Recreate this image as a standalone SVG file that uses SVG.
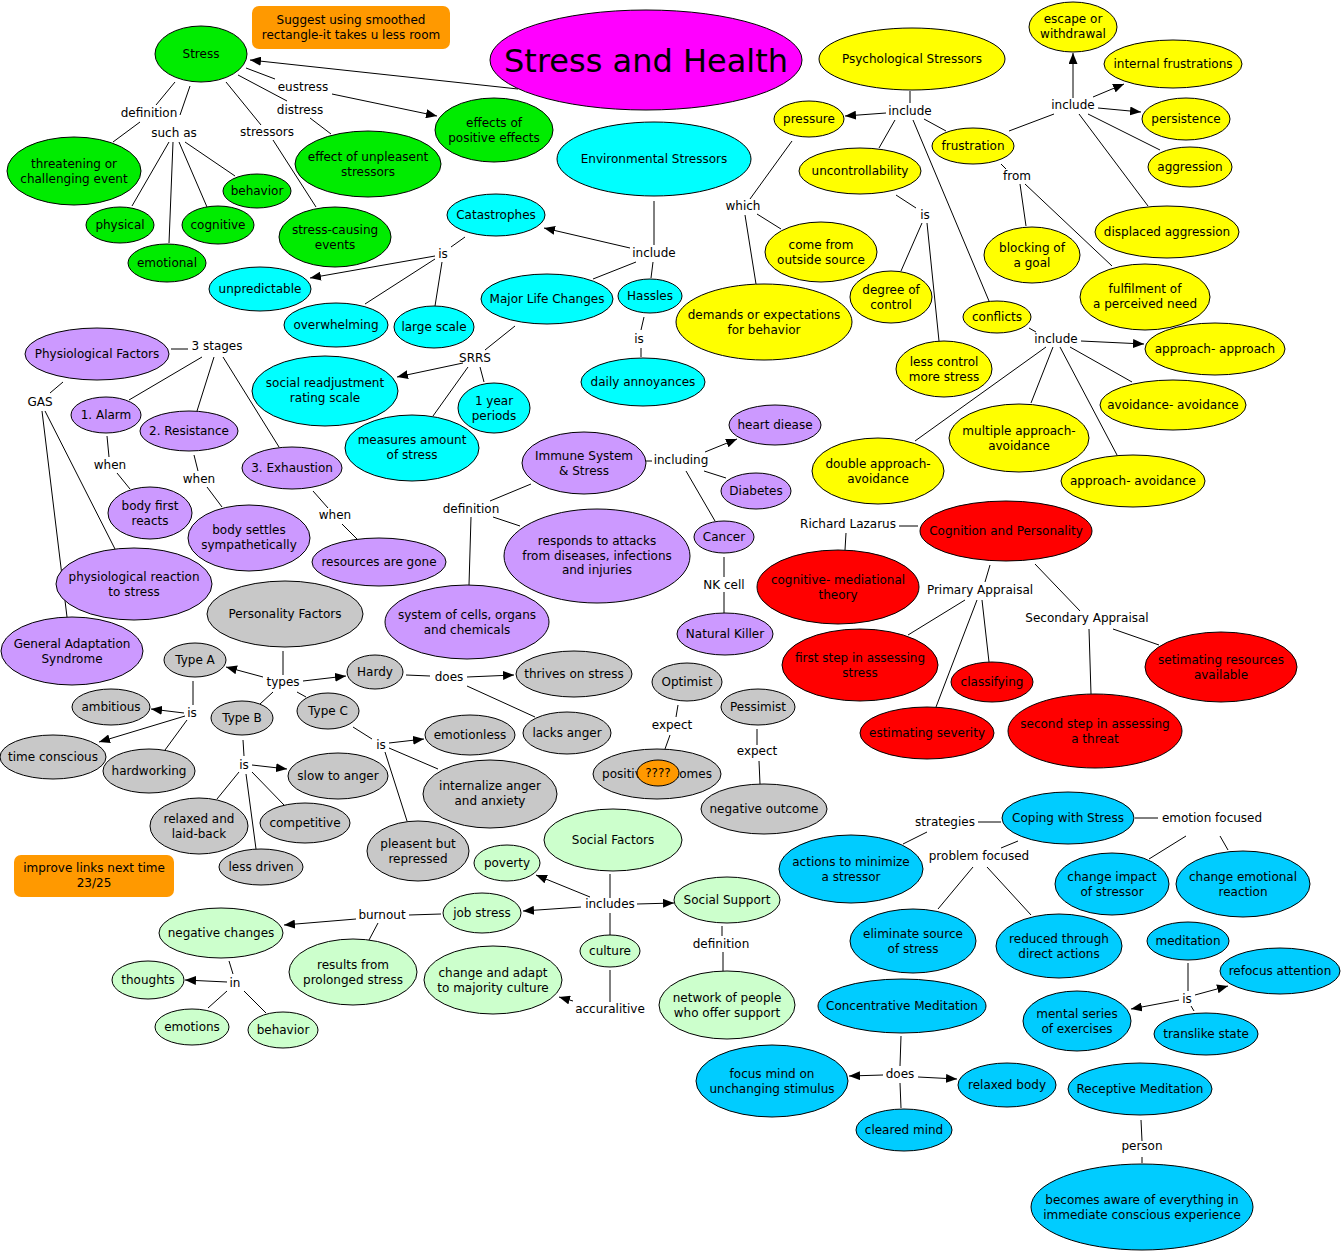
<svg xmlns="http://www.w3.org/2000/svg" width="1343" height="1252" viewBox="0 0 1343 1252">
<defs>
<marker id="arr" viewBox="0 0 11 9" refX="11" refY="4.5" markerWidth="11" markerHeight="9" markerUnits="userSpaceOnUse" orient="auto"><path d="M0,0L11,4.5L0,9z" fill="#000"/></marker>
<style>
text{font-family:"DejaVu Sans",Verdana,sans-serif;font-size:12px;fill:#000;text-anchor:middle}
ellipse{stroke:#000;stroke-width:1}
.g ellipse{fill:#00ec00}
.c ellipse{fill:#00ffff}
.y ellipse{fill:#ffff00}
.p ellipse{fill:#cc99ff}
.r ellipse{fill:#ff0000}
.s ellipse{fill:#c8c8c8}
.lg ellipse{fill:#ccffcc}
.b ellipse{fill:#00ccff}
.note rect{fill:#ff9900}
#links line{stroke:#000;stroke-width:1}
#links line.a{marker-end:url(#arr)}
</style>
</defs>
<rect width="1343" height="1252" fill="#fff"/>

<g id="links">
<line x1="518" y1="89" x2="250" y2="60" class="a"/>
<line x1="246" y1="68" x2="275" y2="79"/>
<line x1="332" y1="94" x2="437" y2="116" class="a"/>
<line x1="238" y1="75" x2="287" y2="101"/>
<line x1="310" y1="118" x2="331" y2="134"/>
<line x1="175" y1="82" x2="156" y2="105"/>
<line x1="140" y1="122" x2="113" y2="142"/>
<line x1="190" y1="86" x2="180" y2="115"/>
<line x1="169" y1="142" x2="132" y2="206"/>
<line x1="173" y1="142" x2="169" y2="243"/>
<line x1="179" y1="142" x2="207" y2="207"/>
<line x1="185" y1="142" x2="235" y2="176"/>
<line x1="226" y1="82" x2="261" y2="125"/>
<line x1="273" y1="140" x2="316" y2="207"/>
<line x1="654" y1="201" x2="654" y2="245"/>
<line x1="630" y1="248" x2="544" y2="228" class="a"/>
<line x1="636" y1="262" x2="593" y2="279"/>
<line x1="653" y1="262" x2="651" y2="278"/>
<line x1="465" y1="237" x2="451" y2="247"/>
<line x1="435" y1="256" x2="310" y2="278" class="a"/>
<line x1="435" y1="259" x2="365" y2="304"/>
<line x1="442" y1="262" x2="435" y2="306"/>
<line x1="515" y1="326" x2="485" y2="350"/>
<line x1="463" y1="363" x2="397" y2="377" class="a"/>
<line x1="468" y1="367" x2="433" y2="416"/>
<line x1="480" y1="367" x2="484" y2="382"/>
<line x1="644" y1="317" x2="641" y2="330"/>
<line x1="641" y1="348" x2="641" y2="357"/>
<line x1="910" y1="91" x2="910" y2="103"/>
<line x1="886" y1="113" x2="845" y2="116" class="a"/>
<line x1="895" y1="120" x2="879" y2="148"/>
<line x1="924" y1="119" x2="946" y2="131"/>
<line x1="913" y1="120" x2="989" y2="301"/>
<line x1="792" y1="141" x2="750" y2="199"/>
<line x1="757" y1="214" x2="781" y2="229"/>
<line x1="745" y1="215" x2="756" y2="284"/>
<line x1="896" y1="195" x2="916" y2="208"/>
<line x1="922" y1="223" x2="901" y2="271"/>
<line x1="927" y1="223" x2="939" y2="341"/>
<line x1="1009" y1="131" x2="1054" y2="114"/>
<line x1="1073" y1="98" x2="1073" y2="53" class="a"/>
<line x1="1093" y1="97" x2="1124" y2="84" class="a"/>
<line x1="1098" y1="108" x2="1141" y2="112" class="a"/>
<line x1="1088" y1="114" x2="1160" y2="150"/>
<line x1="1079" y1="114" x2="1148" y2="206"/>
<line x1="1001" y1="164" x2="1006" y2="169"/>
<line x1="1020" y1="184" x2="1026" y2="226"/>
<line x1="1025" y1="184" x2="1112" y2="266"/>
<line x1="1029" y1="328" x2="1036" y2="332"/>
<line x1="1081" y1="341" x2="1144" y2="344" class="a"/>
<line x1="1070" y1="347" x2="1132" y2="382"/>
<line x1="1053" y1="347" x2="1031" y2="403"/>
<line x1="1046" y1="347" x2="915" y2="441"/>
<line x1="1060" y1="347" x2="1117" y2="455"/>
<line x1="171" y1="349" x2="188" y2="349"/>
<line x1="202" y1="357" x2="129" y2="400"/>
<line x1="214" y1="357" x2="197" y2="411"/>
<line x1="223" y1="357" x2="279" y2="447"/>
<line x1="63" y1="382" x2="50" y2="393"/>
<line x1="45" y1="411" x2="115" y2="549"/>
<line x1="42" y1="411" x2="67" y2="617"/>
<line x1="107" y1="436" x2="109" y2="457"/>
<line x1="117" y1="473" x2="130" y2="489"/>
<line x1="194" y1="455" x2="198" y2="471"/>
<line x1="207" y1="487" x2="222" y2="507"/>
<line x1="313" y1="491" x2="328" y2="508"/>
<line x1="342" y1="524" x2="357" y2="539"/>
<line x1="531" y1="484" x2="490" y2="501"/>
<line x1="493" y1="517" x2="520" y2="526"/>
<line x1="471" y1="517" x2="469" y2="585"/>
<line x1="646" y1="461" x2="652" y2="461"/>
<line x1="705" y1="452" x2="737" y2="439" class="a"/>
<line x1="704" y1="471" x2="726" y2="478"/>
<line x1="686" y1="471" x2="715" y2="521"/>
<line x1="724" y1="557" x2="724" y2="577"/>
<line x1="724" y1="592" x2="724" y2="613"/>
<line x1="899" y1="526" x2="918" y2="526"/>
<line x1="846" y1="533" x2="845" y2="550"/>
<line x1="990" y1="565" x2="985" y2="582"/>
<line x1="965" y1="600" x2="908" y2="635"/>
<line x1="982" y1="600" x2="989" y2="662"/>
<line x1="977" y1="600" x2="936" y2="707"/>
<line x1="1035" y1="564" x2="1080" y2="611"/>
<line x1="1089" y1="629" x2="1091" y2="694"/>
<line x1="1113" y1="629" x2="1159" y2="645"/>
<line x1="283" y1="651" x2="283" y2="675"/>
<line x1="263" y1="677" x2="226" y2="667" class="a"/>
<line x1="303" y1="681" x2="346" y2="676" class="a"/>
<line x1="273" y1="692" x2="260" y2="704"/>
<line x1="297" y1="692" x2="306" y2="697"/>
<line x1="406" y1="675" x2="430" y2="676"/>
<line x1="467" y1="677" x2="514" y2="675" class="a"/>
<line x1="467" y1="686" x2="535" y2="717"/>
<line x1="193" y1="681" x2="193" y2="705"/>
<line x1="184" y1="713" x2="151" y2="709" class="a"/>
<line x1="185" y1="716" x2="99" y2="742" class="a"/>
<line x1="187" y1="720" x2="165" y2="750"/>
<line x1="243" y1="740" x2="244" y2="756"/>
<line x1="252" y1="765" x2="287" y2="769" class="a"/>
<line x1="239" y1="772" x2="217" y2="799"/>
<line x1="252" y1="772" x2="284" y2="805"/>
<line x1="246" y1="774" x2="256" y2="849"/>
<line x1="353" y1="727" x2="372" y2="739"/>
<line x1="389" y1="743" x2="424" y2="739" class="a"/>
<line x1="389" y1="748" x2="438" y2="769"/>
<line x1="385" y1="752" x2="407" y2="821"/>
<line x1="678" y1="705" x2="676" y2="717"/>
<line x1="670" y1="735" x2="665" y2="749"/>
<line x1="757" y1="729" x2="757" y2="745"/>
<line x1="759" y1="761" x2="760" y2="784"/>
<line x1="610" y1="874" x2="610" y2="898"/>
<line x1="590" y1="897" x2="536" y2="875" class="a"/>
<line x1="581" y1="907" x2="523" y2="911" class="a"/>
<line x1="637" y1="904" x2="674" y2="903" class="a"/>
<line x1="610" y1="913" x2="610" y2="935"/>
<line x1="610" y1="970" x2="610" y2="1002"/>
<line x1="573" y1="1001" x2="559" y2="997" class="a"/>
<line x1="722" y1="926" x2="722" y2="936"/>
<line x1="723" y1="952" x2="723" y2="971"/>
<line x1="441" y1="914" x2="409" y2="915"/>
<line x1="356" y1="919" x2="284" y2="925" class="a"/>
<line x1="378" y1="923" x2="369" y2="940"/>
<line x1="229" y1="961" x2="233" y2="974"/>
<line x1="227" y1="982" x2="185" y2="980" class="a"/>
<line x1="227" y1="991" x2="208" y2="1008"/>
<line x1="244" y1="991" x2="266" y2="1013"/>
<line x1="1001" y1="822" x2="978" y2="822"/>
<line x1="927" y1="832" x2="903" y2="844"/>
<line x1="1135" y1="818" x2="1158" y2="818"/>
<line x1="1186" y1="836" x2="1149" y2="859"/>
<line x1="1220" y1="836" x2="1228" y2="850"/>
<line x1="1018" y1="841" x2="1001" y2="848"/>
<line x1="973" y1="867" x2="938" y2="909"/>
<line x1="987" y1="867" x2="1031" y2="915"/>
<line x1="1188" y1="963" x2="1188" y2="991"/>
<line x1="1195" y1="995" x2="1228" y2="986" class="a"/>
<line x1="1179" y1="1000" x2="1131" y2="1009" class="a"/>
<line x1="1191" y1="1006" x2="1194" y2="1011"/>
<line x1="901" y1="1036" x2="900" y2="1066"/>
<line x1="883" y1="1075" x2="849" y2="1076" class="a"/>
<line x1="918" y1="1077" x2="957" y2="1079" class="a"/>
<line x1="900" y1="1083" x2="901" y2="1108"/>
<line x1="1141" y1="1120" x2="1142" y2="1141"/>
<line x1="1142" y1="1157" x2="1142" y2="1163"/>
</g>

<g id="labels">
<text x="149" y="117">definition</text>
<text x="174" y="137">such as</text>
<text x="267" y="136">stressors</text>
<text x="303" y="91">eustress</text>
<text x="300" y="114">distress</text>
<text x="654" y="257">include</text>
<text x="443" y="258">is</text>
<text x="475" y="362">SRRS</text>
<text x="639" y="343">is</text>
<text x="743" y="210">which</text>
<text x="910" y="115">include</text>
<text x="1073" y="109">include</text>
<text x="1017" y="180">from</text>
<text x="925" y="219">is</text>
<text x="1056" y="343">include</text>
<text x="217" y="350">3 stages</text>
<text x="40" y="406">GAS</text>
<text x="110" y="469">when</text>
<text x="199" y="483">when</text>
<text x="335" y="519">when</text>
<text x="471" y="513">definition</text>
<text x="681" y="464">including</text>
<text x="724" y="589">NK cell</text>
<text x="848" y="528">Richard Lazarus</text>
<text x="980" y="594">Primary Appraisal</text>
<text x="1087" y="622">Secondary Appraisal</text>
<text x="283" y="686">types</text>
<text x="449" y="681">does</text>
<text x="192" y="717">is</text>
<text x="244" y="769">is</text>
<text x="381" y="749">is</text>
<text x="672" y="729">expect</text>
<text x="757" y="755">expect</text>
<text x="945" y="826">strategies</text>
<text x="1212" y="822">emotion focused</text>
<text x="979" y="860">problem focused</text>
<text x="1187" y="1003">is</text>
<text x="900" y="1078">does</text>
<text x="1142" y="1150">person</text>
<text x="610" y="908">includes</text>
<text x="382" y="919">burnout</text>
<text x="235" y="987">in</text>
<text x="721" y="948">definition</text>
<text x="610" y="1013">accuralitive</text>
</g>

<g id="note-suggest" class="note"><rect x="252" y="6" width="198" height="43" rx="7"/><text x="351" y="24">Suggest using smoothed</text><text x="351" y="38.5">rectangle-it takes u less room</text></g>
<g id="note-improve" class="note"><rect x="14" y="855" width="160" height="42" rx="7"/><text x="94" y="872">improve links next time</text><text x="94" y="886.5">23/25</text></g>

<g id="title"><ellipse cx="646" cy="60" rx="156" ry="50" fill="#ff00ff"/><text x="646" y="72" style="font-size:32px">Stress and Health</text></g>

<g id="stress" class="g"><ellipse cx="201" cy="54" rx="46" ry="28"/><text x="201" y="58">Stress</text></g>
<g id="threatening" class="g"><ellipse cx="74" cy="171" rx="67" ry="34"/><text x="74" y="168">threatening or</text><text x="74" y="182.5">challenging event</text></g>
<g id="physical" class="g"><ellipse cx="120" cy="225" rx="34" ry="18"/><text x="120" y="229">physical</text></g>
<g id="emotional" class="g"><ellipse cx="167" cy="263" rx="39" ry="19"/><text x="167" y="267">emotional</text></g>
<g id="cognitive" class="g"><ellipse cx="218" cy="225" rx="36" ry="19"/><text x="218" y="229">cognitive</text></g>
<g id="behavior1" class="g"><ellipse cx="257" cy="191" rx="34" ry="17"/><text x="257" y="195">behavior</text></g>
<g id="stress-causing" class="g"><ellipse cx="335" cy="237" rx="56" ry="30"/><text x="335" y="234">stress-causing</text><text x="335" y="248.5">events</text></g>
<g id="unpleasent" class="g"><ellipse cx="368" cy="164" rx="73" ry="33"/><text x="368" y="161">effect of unpleasent</text><text x="368" y="175.5">stressors</text></g>
<g id="positive-effects" class="g"><ellipse cx="494" cy="130" rx="59" ry="32"/><text x="494" y="127">effects of</text><text x="494" y="141.5">positive effects</text></g>

<g id="environmental" class="c"><ellipse cx="654" cy="159" rx="97" ry="37"/><text x="654" y="163">Environmental Stressors</text></g>
<g id="catastrophes" class="c"><ellipse cx="496" cy="215" rx="49" ry="21"/><text x="496" y="219">Catastrophes</text></g>
<g id="major-life" class="c"><ellipse cx="547" cy="299" rx="66" ry="25"/><text x="547" y="303">Major Life Changes</text></g>
<g id="hassles" class="c"><ellipse cx="650" cy="296" rx="32" ry="17"/><text x="650" y="300">Hassles</text></g>
<g id="daily" class="c"><ellipse cx="643" cy="382" rx="62" ry="24"/><text x="643" y="386">daily annoyances</text></g>
<g id="unpredictable" class="c"><ellipse cx="260" cy="289" rx="51" ry="22"/><text x="260" y="293">unpredictable</text></g>
<g id="overwhelming" class="c"><ellipse cx="336" cy="325" rx="52" ry="22"/><text x="336" y="329">overwhelming</text></g>
<g id="large-scale" class="c"><ellipse cx="434" cy="327" rx="40" ry="21"/><text x="434" y="331">large scale</text></g>
<g id="srrs-scale" class="c"><ellipse cx="325" cy="391" rx="73" ry="35"/><text x="325" y="387">social readjustment</text><text x="325" y="401.5">rating scale</text></g>
<g id="measures" class="c"><ellipse cx="412" cy="448" rx="67" ry="33"/><text x="412" y="444">measures amount</text><text x="412" y="458.5">of stress</text></g>
<g id="year" class="c"><ellipse cx="494" cy="408" rx="36" ry="25"/><text x="494" y="405">1 year</text><text x="494" y="419.5">periods</text></g>

<g id="psychological" class="y"><ellipse cx="912" cy="59" rx="93" ry="31"/><text x="912" y="63">Psychological Stressors</text></g>
<g id="pressure" class="y"><ellipse cx="809" cy="119" rx="35" ry="18"/><text x="809" y="123">pressure</text></g>
<g id="uncontrollability" class="y"><ellipse cx="860" cy="171" rx="61" ry="23"/><text x="860" y="175">uncontrollability</text></g>
<g id="frustration" class="y"><ellipse cx="973" cy="146" rx="41" ry="18"/><text x="973" y="150">frustration</text></g>
<g id="escape" class="y"><ellipse cx="1073" cy="27" rx="44" ry="25"/><text x="1073" y="23">escape or</text><text x="1073" y="37.5">withdrawal</text></g>
<g id="internal" class="y"><ellipse cx="1173" cy="64" rx="69" ry="24"/><text x="1173" y="68">internal frustrations</text></g>
<g id="persistence" class="y"><ellipse cx="1186" cy="119" rx="44" ry="21"/><text x="1186" y="123">persistence</text></g>
<g id="aggression" class="y"><ellipse cx="1190" cy="167" rx="42" ry="20"/><text x="1190" y="171">aggression</text></g>
<g id="displaced" class="y"><ellipse cx="1167" cy="232" rx="72" ry="26"/><text x="1167" y="236">displaced aggression</text></g>
<g id="blocking" class="y"><ellipse cx="1032" cy="255" rx="48" ry="28"/><text x="1032" y="252">blocking of</text><text x="1032" y="266.5">a goal</text></g>
<g id="fulfilment" class="y"><ellipse cx="1145" cy="297" rx="65" ry="33"/><text x="1145" y="293">fulfilment of</text><text x="1145" y="307.5">a perceived need</text></g>
<g id="conflicts" class="y"><ellipse cx="997" cy="317" rx="34" ry="16"/><text x="997" y="321">conflicts</text></g>
<g id="less-control" class="y"><ellipse cx="944" cy="369" rx="48" ry="28"/><text x="944" y="366">less control</text><text x="944" y="380.5">more stress</text></g>
<g id="come-from" class="y"><ellipse cx="821" cy="252" rx="56" ry="30"/><text x="821" y="249">come from</text><text x="821" y="263.5">outside source</text></g>
<g id="demands" class="y"><ellipse cx="764" cy="322" rx="88" ry="38"/><text x="764" y="319">demands or expectations</text><text x="764" y="333.5">for behavior</text></g>
<g id="degree" class="y"><ellipse cx="891" cy="297" rx="41" ry="26"/><text x="891" y="294">degree of</text><text x="891" y="308.5">control</text></g>
<g id="app-app" class="y"><ellipse cx="1215" cy="349" rx="70" ry="26"/><text x="1215" y="353">approach- approach</text></g>
<g id="av-av" class="y"><ellipse cx="1173" cy="405" rx="73" ry="25"/><text x="1173" y="409">avoidance- avoidance</text></g>
<g id="multiple" class="y"><ellipse cx="1019" cy="438" rx="70" ry="34"/><text x="1019" y="435">multiple approach-</text><text x="1019" y="449.5">avoidance</text></g>
<g id="double" class="y"><ellipse cx="878" cy="471" rx="66" ry="33"/><text x="878" y="468">double approach-</text><text x="878" y="482.5">avoidance</text></g>
<g id="app-av" class="y"><ellipse cx="1133" cy="481" rx="72" ry="26"/><text x="1133" y="485">approach- avoidance</text></g>

<g id="physiological" class="p"><ellipse cx="97" cy="354" rx="72" ry="26"/><text x="97" y="358">Physiological Factors</text></g>
<g id="alarm" class="p"><ellipse cx="106" cy="415" rx="35" ry="18"/><text x="106" y="419">1. Alarm</text></g>
<g id="resistance" class="p"><ellipse cx="189" cy="431" rx="49" ry="20"/><text x="189" y="435">2. Resistance</text></g>
<g id="exhaustion" class="p"><ellipse cx="292" cy="468" rx="50" ry="21"/><text x="292" y="472">3. Exhaustion</text></g>
<g id="body-first" class="p"><ellipse cx="150" cy="513" rx="42" ry="26"/><text x="150" y="510">body first</text><text x="150" y="524.5">reacts</text></g>
<g id="body-settles" class="p"><ellipse cx="249" cy="538" rx="61" ry="33"/><text x="249" y="534">body settles</text><text x="249" y="548.5">sympathetically</text></g>
<g id="resources" class="p"><ellipse cx="379" cy="562" rx="67" ry="24"/><text x="379" y="566">resources are gone</text></g>
<g id="physio-reaction" class="p"><ellipse cx="134" cy="584" rx="78" ry="36"/><text x="134" y="581">physiological reaction</text><text x="134" y="595.5">to stress</text></g>
<g id="gas" class="p"><ellipse cx="72" cy="651" rx="71" ry="34"/><text x="72" y="648">General Adaptation</text><text x="72" y="662.5">Syndrome</text></g>
<g id="immune" class="p"><ellipse cx="584" cy="463" rx="62" ry="31"/><text x="584" y="460">Immune System</text><text x="584" y="474.5">&amp; Stress</text></g>
<g id="responds" class="p"><ellipse cx="597" cy="556" rx="93" ry="47"/><text x="597" y="545">responds to attacks</text><text x="597" y="559.5">from diseases, infections</text><text x="597" y="574">and injuries</text></g>
<g id="system" class="p"><ellipse cx="467" cy="622" rx="82" ry="37"/><text x="467" y="619">system of cells, organs</text><text x="467" y="633.5">and chemicals</text></g>
<g id="heart" class="p"><ellipse cx="775" cy="425" rx="46" ry="20"/><text x="775" y="429">heart diease</text></g>
<g id="diabetes" class="p"><ellipse cx="756" cy="491" rx="35" ry="18"/><text x="756" y="495">Diabetes</text></g>
<g id="cancer" class="p"><ellipse cx="724" cy="537" rx="30" ry="16"/><text x="724" y="541">Cancer</text></g>
<g id="natural-killer" class="p"><ellipse cx="725" cy="634" rx="48" ry="21"/><text x="725" y="638">Natural Killer</text></g>

<g id="cognition" class="r"><ellipse cx="1006" cy="531" rx="86" ry="30"/><text x="1006" y="535">Cognition and Personality</text></g>
<g id="cog-med" class="r"><ellipse cx="838" cy="587" rx="81" ry="37"/><text x="838" y="584">cognitive- mediational</text><text x="838" y="598.5">theory</text></g>
<g id="first-step" class="r"><ellipse cx="860" cy="665" rx="78" ry="36"/><text x="860" y="662">first step in assessing</text><text x="860" y="676.5">stress</text></g>
<g id="classifying" class="r"><ellipse cx="992" cy="682" rx="41" ry="20"/><text x="992" y="686">classifying</text></g>
<g id="severity" class="r"><ellipse cx="927" cy="733" rx="67" ry="26"/><text x="927" y="737">estimating severity</text></g>
<g id="second-step" class="r"><ellipse cx="1095" cy="731" rx="87" ry="37"/><text x="1095" y="728">second step in assessing</text><text x="1095" y="742.5">a threat</text></g>
<g id="setimating" class="r"><ellipse cx="1221" cy="667" rx="76" ry="35"/><text x="1221" y="664">setimating resources</text><text x="1221" y="678.5">available</text></g>

<g id="personality" class="s"><ellipse cx="285" cy="614" rx="78" ry="33"/><text x="285" y="618">Personality Factors</text></g>
<g id="type-a" class="s"><ellipse cx="195" cy="660" rx="31" ry="17"/><text x="195" y="664">Type A</text></g>
<g id="hardy" class="s"><ellipse cx="375" cy="672" rx="28" ry="17"/><text x="375" y="676">Hardy</text></g>
<g id="type-b" class="s"><ellipse cx="242" cy="718" rx="31" ry="17"/><text x="242" y="722">Type B</text></g>
<g id="type-c" class="s"><ellipse cx="328" cy="711" rx="31" ry="18"/><text x="328" y="715">Type C</text></g>
<g id="ambitious" class="s"><ellipse cx="111" cy="707" rx="39" ry="18"/><text x="111" y="711">ambitious</text></g>
<g id="time-conscious" class="s"><ellipse cx="53" cy="757" rx="53" ry="22"/><text x="53" y="761">time conscious</text></g>
<g id="hardworking" class="s"><ellipse cx="149" cy="771" rx="46" ry="22"/><text x="149" y="775">hardworking</text></g>
<g id="relaxed" class="s"><ellipse cx="199" cy="826" rx="49" ry="28"/><text x="199" y="823">relaxed and</text><text x="199" y="837.5">laid-back</text></g>
<g id="competitive" class="s"><ellipse cx="305" cy="823" rx="45" ry="20"/><text x="305" y="827">competitive</text></g>
<g id="less-driven" class="s"><ellipse cx="261" cy="867" rx="42" ry="18"/><text x="261" y="871">less driven</text></g>
<g id="slow" class="s"><ellipse cx="338" cy="776" rx="50" ry="23"/><text x="338" y="780">slow to anger</text></g>
<g id="emotionless" class="s"><ellipse cx="470" cy="735" rx="45" ry="20"/><text x="470" y="739">emotionless</text></g>
<g id="internalize" class="s"><ellipse cx="490" cy="794" rx="67" ry="34"/><text x="490" y="790">internalize anger</text><text x="490" y="804.5">and anxiety</text></g>
<g id="pleasent" class="s"><ellipse cx="418" cy="851" rx="51" ry="30"/><text x="418" y="848">pleasent but</text><text x="418" y="862.5">repressed</text></g>
<g id="lacks" class="s"><ellipse cx="567" cy="733" rx="44" ry="21"/><text x="567" y="737">lacks anger</text></g>
<g id="thrives" class="s"><ellipse cx="574" cy="674" rx="58" ry="23"/><text x="574" y="678">thrives on stress</text></g>
<g id="optimist" class="s"><ellipse cx="687" cy="682" rx="35" ry="19"/><text x="687" y="686">Optimist</text></g>
<g id="pessimist" class="s"><ellipse cx="758" cy="707" rx="37" ry="18"/><text x="758" y="711">Pessimist</text></g>
<g id="positive-outcomes" class="s"><ellipse cx="657" cy="774" rx="64" ry="25"/><text x="657" y="778">positive outcomes</text></g>
<g id="question"><ellipse cx="658" cy="773" rx="21" ry="13" fill="#ff9900"/><text x="658" y="777">????</text></g>
<g id="negative-outcome" class="s"><ellipse cx="764" cy="809" rx="63" ry="25"/><text x="764" y="813">negative outcome</text></g>

<g id="social-factors" class="lg"><ellipse cx="613" cy="840" rx="69" ry="31"/><text x="613" y="844">Social Factors</text></g>
<g id="poverty" class="lg"><ellipse cx="507" cy="863" rx="33" ry="18"/><text x="507" y="867">poverty</text></g>
<g id="job-stress" class="lg"><ellipse cx="482" cy="913" rx="39" ry="20"/><text x="482" y="917">job stress</text></g>
<g id="social-support" class="lg"><ellipse cx="727" cy="900" rx="53" ry="23"/><text x="727" y="904">Social Support</text></g>
<g id="culture" class="lg"><ellipse cx="610" cy="951" rx="30" ry="16"/><text x="610" y="955">culture</text></g>
<g id="adapt" class="lg"><ellipse cx="493" cy="980" rx="69" ry="34"/><text x="493" y="977">change and adapt</text><text x="493" y="991.5">to majority culture</text></g>
<g id="network" class="lg"><ellipse cx="727" cy="1005" rx="68" ry="34"/><text x="727" y="1002">network of people</text><text x="727" y="1016.5">who offer support</text></g>
<g id="negative-changes" class="lg"><ellipse cx="221" cy="933" rx="62" ry="25"/><text x="221" y="937">negative changes</text></g>
<g id="results" class="lg"><ellipse cx="353" cy="972" rx="64" ry="33"/><text x="353" y="969">results from</text><text x="353" y="983.5">prolonged stress</text></g>
<g id="thoughts" class="lg"><ellipse cx="148" cy="980" rx="36" ry="19"/><text x="148" y="984">thoughts</text></g>
<g id="emotions" class="lg"><ellipse cx="192" cy="1027" rx="37" ry="18"/><text x="192" y="1031">emotions</text></g>
<g id="behavior2" class="lg"><ellipse cx="283" cy="1030" rx="35" ry="18"/><text x="283" y="1034">behavior</text></g>

<g id="coping" class="b"><ellipse cx="1068" cy="818" rx="66" ry="26"/><text x="1068" y="822">Coping with Stress</text></g>
<g id="actions" class="b"><ellipse cx="851" cy="869" rx="72" ry="34"/><text x="851" y="866">actions to minimize</text><text x="851" y="880.5">a stressor</text></g>
<g id="eliminate" class="b"><ellipse cx="913" cy="941" rx="63" ry="32"/><text x="913" y="938">eliminate source</text><text x="913" y="952.5">of stress</text></g>
<g id="reduced" class="b"><ellipse cx="1059" cy="946" rx="63" ry="32"/><text x="1059" y="943">reduced through</text><text x="1059" y="957.5">direct actions</text></g>
<g id="change-impact" class="b"><ellipse cx="1112" cy="884" rx="57" ry="31"/><text x="1112" y="881">change impact</text><text x="1112" y="895.5">of stressor</text></g>
<g id="change-emotional" class="b"><ellipse cx="1243" cy="884" rx="67" ry="33"/><text x="1243" y="881">change emotional</text><text x="1243" y="895.5">reaction</text></g>
<g id="meditation" class="b"><ellipse cx="1188" cy="941" rx="41" ry="19"/><text x="1188" y="945">meditation</text></g>
<g id="refocus" class="b"><ellipse cx="1280" cy="971" rx="60" ry="23"/><text x="1280" y="975">refocus attention</text></g>
<g id="mental-series" class="b"><ellipse cx="1077" cy="1021" rx="54" ry="30"/><text x="1077" y="1018">mental series</text><text x="1077" y="1032.5">of exercises</text></g>
<g id="translike" class="b"><ellipse cx="1206" cy="1034" rx="52" ry="21"/><text x="1206" y="1038">translike state</text></g>
<g id="concentrative" class="b"><ellipse cx="902" cy="1006" rx="84" ry="27"/><text x="902" y="1010">Concentrative Meditation</text></g>
<g id="focus" class="b"><ellipse cx="772" cy="1081" rx="76" ry="36"/><text x="772" y="1078">focus mind on</text><text x="772" y="1092.5">unchanging stimulus</text></g>
<g id="relaxed-body" class="b"><ellipse cx="1007" cy="1085" rx="49" ry="22"/><text x="1007" y="1089">relaxed body</text></g>
<g id="cleared" class="b"><ellipse cx="904" cy="1130" rx="48" ry="21"/><text x="904" y="1134">cleared mind</text></g>
<g id="receptive" class="b"><ellipse cx="1140" cy="1089" rx="72" ry="26"/><text x="1140" y="1093">Receptive Meditation</text></g>
<g id="aware" class="b"><ellipse cx="1142" cy="1207" rx="111" ry="43"/><text x="1142" y="1204">becomes aware of everything in</text><text x="1142" y="1218.5">immediate conscious experience</text></g>
</svg>
